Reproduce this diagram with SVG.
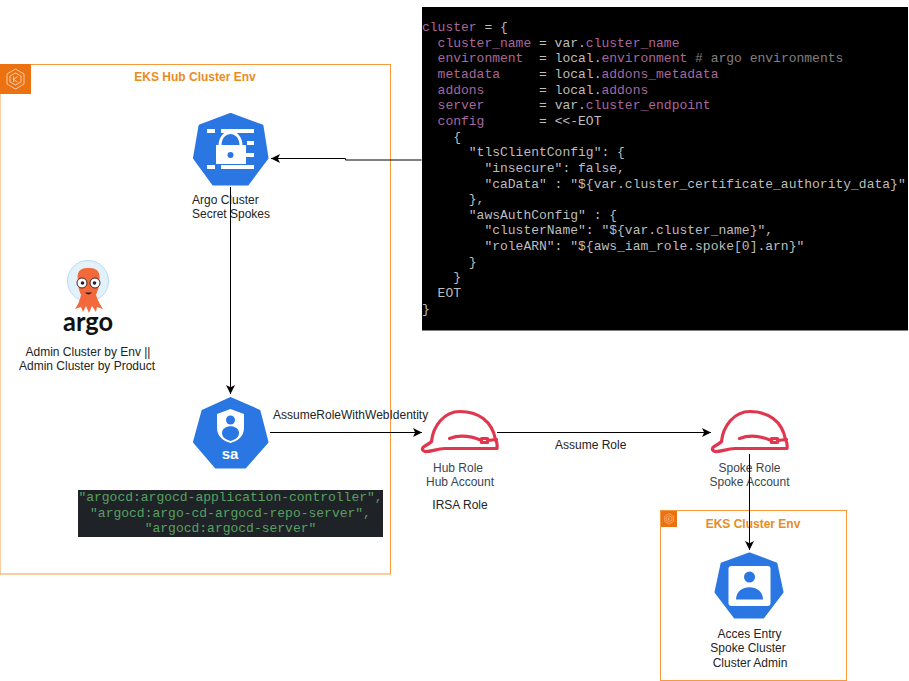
<svg xmlns="http://www.w3.org/2000/svg" width="909" height="681" viewBox="0 0 909 681">
<style>
text{font-family:"Liberation Sans",Arial,sans-serif;font-size:12px}
.lbl{fill:#232323}
.dk{fill:#3b4452}
.ttl{fill:#ea8c1e;font-weight:bold}
.mid{text-anchor:middle}
.box{fill:#fff;stroke:#f79a3e;stroke-width:1}
.hept{fill:#2a76e2;stroke:#2a76e2;stroke-width:3;stroke-linejoin:round}
.w{fill:#fff}
.code text{font-family:"Liberation Mono","Courier New",monospace;font-size:13px;fill:#bdbdbd;white-space:pre}
.code .p{fill:#a9679f}
.code .c{fill:#808080}
.sa text{font-family:"Liberation Mono","Courier New",monospace;font-size:13px;fill:#57a160;text-anchor:middle}
.conn{fill:none;stroke:#000;stroke-width:1}
.hat{fill:none;stroke:#e0374f;stroke-width:3.200;stroke-linejoin:round;stroke-linecap:round}
.k{fill:none;stroke:#fff;stroke-width:.8;opacity:.8}
</style>
<defs>
<marker id="arr" markerUnits="userSpaceOnUse" markerWidth="10" markerHeight="10" refX="9" refY="4.5" orient="auto">
<path d="M0 0L9 4.5L0 9L2.2 4.5Z" fill="#000"/>
</marker>
<g id="helmet">
<path class="hat" d="M431.500 441.500C433 426 444 411.500 460 411.500C478 411.500 492 421 495.500 439.500C497 442 497.500 445 497 448.500L445 448.500C436 449 430 452 425 451.500C421 450 422 447.500 425 446C428 444.500 430 443 431.500 441.500Z"/>
<path class="hat" d="M449.500 438.500C460 434.500 471 436 481.500 440.500"/>
<rect class="hat" x="481.500" y="438.500" width="6" height="4" stroke-width="1.800"/>
<path class="hat" d="M487.500 440.500L496.500 439.500"/>
</g>
<g id="kicon">
<polygon class="k" points="15.500,5 24,10 24,20 15.500,25 7,20 7,10"/>
<polygon class="k" points="15.500,9 21,12 21,18 15.500,21 10,18 10,12"/>
<path class="k" d="M13.500 12.500V18M17.500 12.500L13.500 15.500L17.500 18"/>
</g>
</defs>

<g id="hub-cluster">
<rect class="box" x="0" y="64.500" width="390.500" height="509.500"/>
<rect x="0" y="64" width="31" height="30" fill="#ec7211"/>
<use href="#kicon" transform="translate(0 64)"/>
<text class="ttl mid" x="195" y="81">EKS Hub Cluster Env</text>
</g>

<g id="code-block" class="code">
<rect x="422" y="7" width="486" height="323.500" fill="#000"/>
<text xml:space="preserve" x="422" y="31"><tspan class="p">cluster</tspan> = {</text>
<text xml:space="preserve" x="422" y="47"><tspan class="p">  cluster_name</tspan> = var.<tspan class="p">cluster_name</tspan></text>
<text xml:space="preserve" x="422" y="62"><tspan class="p">  environment</tspan>  = local.<tspan class="p">environment</tspan><tspan class="c"> # argo environments</tspan></text>
<text xml:space="preserve" x="422" y="78"><tspan class="p">  metadata</tspan>     = local.<tspan class="p">addons_metadata</tspan></text>
<text xml:space="preserve" x="422" y="94"><tspan class="p">  addons</tspan>       = local.<tspan class="p">addons</tspan></text>
<text xml:space="preserve" x="422" y="109"><tspan class="p">  server</tspan>       = var.<tspan class="p">cluster_endpoint</tspan></text>
<text xml:space="preserve" x="422" y="125"><tspan class="p">  config</tspan>       = &lt;&lt;-EOT</text>
<text xml:space="preserve" x="422" y="141">    {</text>
<text xml:space="preserve" x="422" y="156">      "tlsClientConfig": {</text>
<text xml:space="preserve" x="422" y="172">        "insecure": false,</text>
<text xml:space="preserve" x="422" y="188">        "caData" : "${var.cluster_certificate_authority_data}"</text>
<text xml:space="preserve" x="422" y="203">      },</text>
<text xml:space="preserve" x="422" y="219">      "awsAuthConfig" : {</text>
<text xml:space="preserve" x="422" y="234">        "clusterName": "${var.cluster_name}",</text>
<text xml:space="preserve" x="422" y="250">        "roleARN": "${aws_iam_role.spoke[0].arn}"</text>
<text xml:space="preserve" x="422" y="266">      }</text>
<text xml:space="preserve" x="422" y="281">    }</text>
<text xml:space="preserve" x="422" y="297">  EOT</text>
<text xml:space="preserve" x="422" y="313">}</text>
</g>

<g id="argo-secret">
<polygon class="hept" points="230.500,114.500 262,126 267,158 247.500,184 213.500,184 194.500,158 200,126"/>
<rect class="w" x="207" y="129" width="8" height="4"/>
<rect class="w" x="221" y="129" width="33" height="4"/>
<rect class="w" x="247" y="141" width="7" height="4"/>
<rect class="w" x="246" y="153" width="8" height="4"/>
<rect class="w" x="207" y="165" width="8" height="4"/>
<rect class="w" x="221" y="165" width="33" height="4"/>
<path d="M220 146C220 128 241 128 241 146" fill="none" stroke="#fff" stroke-width="3"/>
<rect class="w" x="216" y="145" width="30" height="19"/>
<circle cx="230.500" cy="155" r="3" fill="#2a76e2"/>
<text class="lbl" x="192" y="204">Argo Cluster</text>
<text class="lbl" x="192" y="218">Secret Spokes</text>
</g>

<g id="argo-admin">
<circle cx="88" cy="281" r="20.500" fill="#e3f1fa" stroke="#b9dcf3" stroke-width="1"/>
<path d="M78 281C76 269 83 268 88.500 268C94 268 101 269 99.500 281C99 289 97 292 96 295C98 301 101 306 103 309L97 307L96 312L92 306L89 313L86 306L83 312L81 307L75 309C77 306 80 301 81 295C80 292 78 289 78 281Z" fill="#f4693c"/>
<circle cx="82" cy="283" r="5" fill="#fff" stroke="#3a2a2a" stroke-width="1"/>
<circle cx="95" cy="283" r="5" fill="#fff" stroke="#3a2a2a" stroke-width="1"/>
<circle cx="82.500" cy="283" r="1.800" fill="#222"/>
<circle cx="94.500" cy="283" r="1.800" fill="#222"/>
<path d="M85 292.500Q88.500 296.500 92 292.500Z" fill="#222"/>
<text x="88" y="331" text-anchor="middle" textLength="50" lengthAdjust="spacingAndGlyphs" style="font-family:Lato,'Liberation Sans',sans-serif;font-size:26px;font-weight:bold;fill:#111">argo</text>
<text class="lbl mid" x="88" y="356">Admin Cluster by Env ||</text>
<text class="lbl mid" x="87" y="370">Admin Cluster by Product</text>
</g>

<g id="service-account">
<polygon class="hept" points="230.500,398.500 259,411 267,442 245,467 216,467 194.500,442 203,411"/>
<path d="M230.500 409L217 414V428C217 436 223 441 230.500 443C238 441 244 436 244 428V414Z" fill="#fff"/>
<circle cx="230.500" cy="420" r="4.500" fill="#2a76e2"/>
<path d="M222 433C222 424 239 424 239 433C239 438 234 440 230.500 441C227 440 222 438 222 433Z" fill="#2a76e2"/>
<text class="mid" x="230" y="459" style="font-size:15px;font-weight:bold;fill:#fff">sa</text>
</g>

<g id="argocd-accounts" class="sa">
<rect x="78" y="490" width="305" height="47" fill="#1f2328"/>
<text x="230.500" y="501">"argocd:argocd-application-controller",</text>
<text x="230.500" y="517">"argocd:argo-cd-argocd-repo-server",</text>
<text x="230.500" y="532">"argocd:argocd-server"</text>
</g>

<g id="hub-role">
<use href="#helmet"/>
<text class="dk mid" x="458" y="472">Hub Role</text>
<text class="dk mid" x="460" y="486">Hub Account</text>
<text class="lbl mid" x="460" y="509">IRSA Role</text>
</g>

<g id="spoke-role">
<use href="#helmet" x="290"/>
<text class="dk mid" x="749.500" y="472">Spoke Role</text>
<text class="dk mid" x="749.500" y="486">Spoke Account</text>
</g>

<g id="eks-cluster">
<rect class="box" x="660.500" y="510.500" width="186" height="170"/>
<rect x="661" y="511" width="16" height="16" fill="#ec7211"/>
<use href="#kicon" transform="translate(661 511) scale(.52)"/>
<text class="ttl mid" x="753" y="528">EKS Cluster Env</text>
</g>

<g id="access-entry">
<polygon class="hept" points="749.500,554 776,564 782,592 763,617 735,617 716,592 722,564"/>
<rect x="728.500" y="566" width="42" height="40" rx="3" fill="#fff"/>
<circle cx="749.500" cy="577" r="5.500" fill="#2a76e2"/>
<path d="M736 599.500C736 583 763 583 763 599.500Z" fill="#2a76e2"/>
<text class="lbl mid" x="749.500" y="638">Acces Entry</text>
<text class="lbl mid" x="748" y="652">Spoke Cluster</text>
<text class="lbl mid" x="750" y="667">Cluster Admin</text>
</g>

<g id="connectors">
<path class="conn" d="M421.500 160H345.500V158.500H271" marker-end="url(#arr)"/>
<path class="conn" d="M230.500 187V394" marker-end="url(#arr)"/>
<path class="conn" d="M270 432.500H422" marker-end="url(#arr)"/>
<path class="conn" d="M497 432.500H711" marker-end="url(#arr)"/>
<path class="conn" d="M749.500 454V550" marker-end="url(#arr)"/>
<text class="lbl" x="273" y="419">AssumeRoleWithWebIdentity</text>
<text class="lbl" x="555" y="449">Assume Role</text>
</g>
</svg>
